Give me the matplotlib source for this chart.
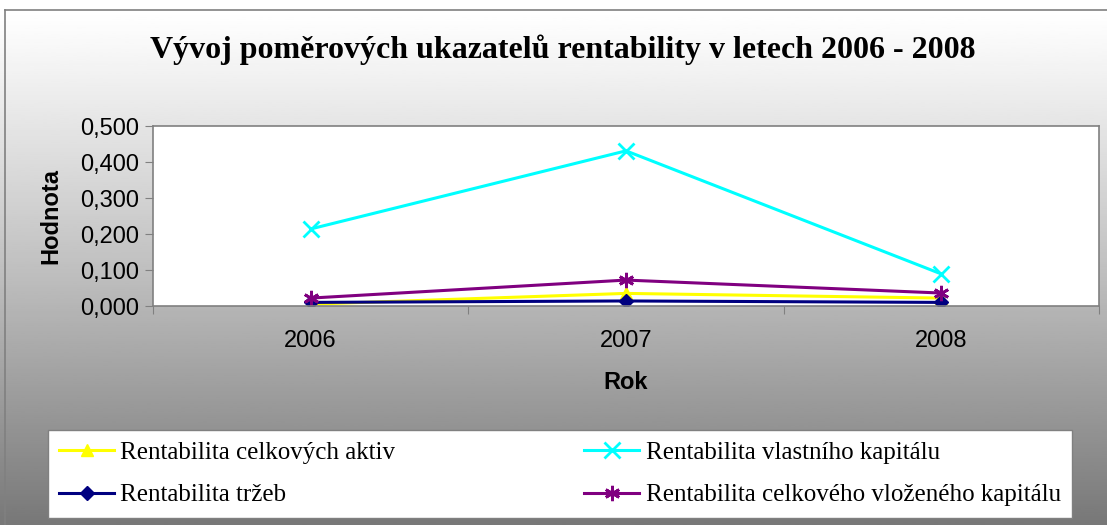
import numpy as np
import matplotlib.pyplot as plt
from matplotlib.lines import Line2D
from matplotlib.ticker import FuncFormatter, FixedLocator

years = ["2006", "2007", "2008"]
roa = [0.005, 0.035, 0.022]
roe = [0.214, 0.431, 0.089]
ros = [0.010, 0.014, 0.010]
roce = [0.022, 0.072, 0.036]

labels = ["Rentabilita celkových aktiv", "Rentabilita vlastního kapitálu",
          "Rentabilita tržeb", "Rentabilita celkového vloženého kapitálu"]

fig = plt.figure(figsize=(11.07, 5.25), dpi=100)

# gradient background
bg = fig.add_axes([0, 0, 1, 1], zorder=-10)
g = np.linspace(0, 1, 256).reshape(-1, 1)
top_y = 1 - 10 / 525
bg.imshow(1 - 0.53 * g ** 1.1, cmap="gray", vmin=0, vmax=1, aspect="auto",
          extent=[0, 1, 0, top_y], origin="upper")
bg.set_xlim(0, 1)
bg.set_ylim(0, 1)
bg.axis("off")
fig.add_artist(Line2D([5 / 1107, 5 / 1107], [0, top_y], color="#808080", lw=1.2))
fig.add_artist(Line2D([5 / 1107, 1], [top_y, top_y], color="#808080", lw=1.2))

ax = fig.add_axes([153 / 1107, 1 - 306 / 525, 946 / 1107, 180 / 525])
ax.set_facecolor("white")
x = np.arange(len(years))
ax.plot(x, roa, color="#FFFF00", marker="^", ms=8, lw=2.2, label=labels[0])
ax.plot(x, roe, color="#00FFFF", marker="x", ms=11, mew=2, lw=2.2, label=labels[1])
ax.plot(x, ros, color="#000080", marker="D", ms=7, lw=2.2, label=labels[2])
ax.plot(x, roce, color="#800080", marker=(6, 2, 0), ms=11, mew=2, lw=2.2, label=labels[3])

ax.set_xlim(-0.5, 2.5)
ax.set_ylim(0, 0.5)
ax.set_yticks(np.arange(0, 0.51, 0.1))
ax.yaxis.set_major_formatter(FuncFormatter(lambda v, p: f"{v:.3f}".replace(".", ",")))
ax.xaxis.set_major_locator(FixedLocator([-0.5, 0.5, 1.5, 2.5]))
ax.xaxis.set_major_formatter(FuncFormatter(lambda v, p: ""))
ax.xaxis.set_minor_locator(FixedLocator(x))
ax.set_xticklabels(years, minor=True)
ax.tick_params(axis="x", which="minor", length=0, pad=17, labelsize=17)
ax.tick_params(axis="x", which="major", length=6, color="#808080", direction="out")
ax.tick_params(axis="y", length=6, color="#808080", direction="out", labelsize=17, pad=4)
for s in ax.spines.values():
    s.set_color("#808080")
    s.set_linewidth(1.2)
for t in ax.get_xticklabels(minor=True) + ax.get_yticklabels():
    t.set_fontfamily("Liberation Sans")

ax.set_xlabel("Rok", fontsize=17, fontweight="bold", family="Liberation Sans", labelpad=14)
ax.set_ylabel("Hodnota", fontsize=17, fontweight="bold", family="Liberation Sans", labelpad=13)

fig.text(0.508, 1 - 50 / 525, "Vývoj poměrových ukazatelů rentability v letech 2006 - 2008",
         ha="center", va="center", fontsize=23, fontweight="bold", family="Liberation Serif")

h, l = ax.get_legend_handles_labels()
order = [0, 2, 1, 3]
leg = fig.legend([h[i] for i in order], [l[i] for i in order], ncol=2,
                 loc="upper left", mode="expand",
                 bbox_to_anchor=(48 / 1107, 1 - 520 / 525, 1024 / 1107, 90 / 525),
                 frameon=True, fancybox=False, edgecolor="#808080", facecolor="white",
                 framealpha=1, prop={"family": "Liberation Serif", "size": 18},
                 handlelength=2.2, handletextpad=0.25, columnspacing=1,
                 labelspacing=0.8, borderpad=0.45, borderaxespad=0)
leg.get_frame().set_linewidth(1)

fig.savefig("out.png", dpi=100)
